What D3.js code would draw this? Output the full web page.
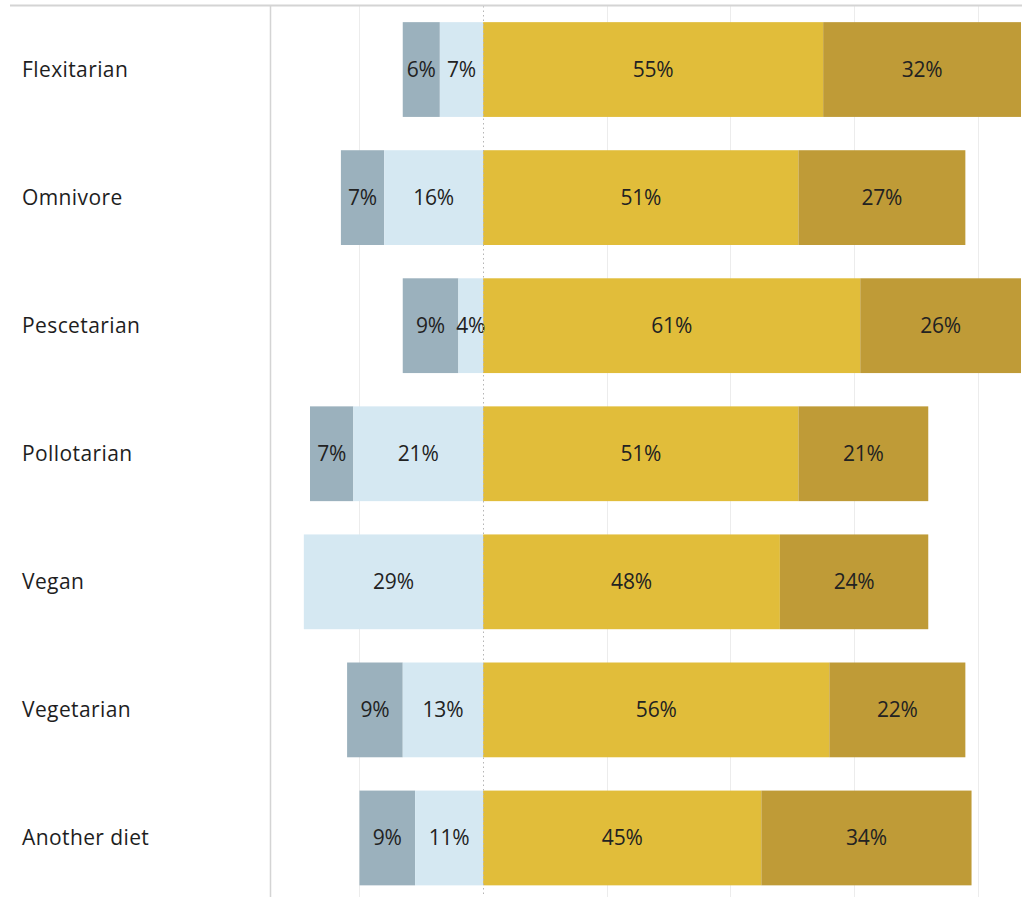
<!DOCTYPE html>
<html>
<head>
<meta charset="utf-8">
<script src="https://cdn.jsdelivr.net/npm/d3@7"></script>
<style>
  html, body { margin: 0; padding: 0; background: #fff; }
  svg { display: block; }
  text { font-family: "Open Sans", "Noto Sans", sans-serif; font-weight: 500; }
</style>
</head>
<body>
<svg id="chart" width="1022" height="897"></svg>
<script>
// Survey responses per diet, in percent
const diets = ["Flexitarian", "Omnivore", "Pescetarian", "Pollotarian", "Vegan", "Vegetarian", "Another diet"];
const stronglyNegative = [6, 7, 9, 7, 0, 9, 9];
const negative = [7, 16, 4, 21, 29, 13, 11];
const positive = [55, 51, 61, 51, 48, 56, 45];
const stronglyPositive = [32, 27, 26, 21, 24, 22, 34];
const gridTicks = [-20, 20, 40, 60, 80];

const colors = {
  stronglyNegative: "#9bb1bd",
  negative: "#d5e8f2",
  positive: "#e1bd3a",
  stronglyPositive: "#bf9b37"
};

const W = 1022, H = 897;
const axisX = 270;
const svg = d3.select("#chart");

const x = d3.scaleLinear().domain([-34.47, 87]).range([axisX, 1021]);
const y = d3.scaleBand().domain(diets).range([5.5, 902]).paddingInner(0.26).paddingOuter(0.13);

// Light vertical grid
svg.append("g").selectAll("line").data(gridTicks).join("line")
  .attr("x1", d => Math.round(x(d)) + 0.5).attr("x2", d => Math.round(x(d)) + 0.5)
  .attr("y1", 6).attr("y2", H)
  .attr("stroke", "#ececec").attr("stroke-width", 1);

// Build stacked segments from the center outward
const rows = diets.map((d, i) => {
  const sn = stronglyNegative[i], n = negative[i], p = positive[i], sp = stronglyPositive[i];
  return {
    diet: d,
    segs: [
      { key: "stronglyNegative", x0: -(n + sn), x1: -n, v: sn },
      { key: "negative", x0: -n, x1: 0, v: n },
      { key: "positive", x0: 0, x1: p, v: p },
      { key: "stronglyPositive", x0: p, x1: p + sp, v: sp }
    ].filter(s => s.v > 0)
  };
});

const rowG = svg.append("g").selectAll("g").data(rows).join("g")
  .attr("transform", d => `translate(0,${y(d.diet)})`);

rowG.selectAll("rect").data(d => d.segs).join("rect")
  .attr("x", s => x(s.x0))
  .attr("width", s => x(s.x1) - x(s.x0))
  .attr("y", 0)
  .attr("height", y.bandwidth())
  .attr("fill", s => colors[s.key]);

rowG.selectAll("text.val").data(d => d.segs).join("text")
  .attr("class", "val")
  .attr("x", s => (x(s.x0) + x(s.x1)) / 2)
  .attr("y", y.bandwidth() / 2)
  .attr("dy", "0.35em")
  .attr("text-anchor", "middle")
  .attr("font-size", 21)
  .attr("letter-spacing", "-0.2")
  .attr("fill", "#222")
  .text(s => s.v + "%");

// Dotted zero line
svg.append("line")
  .attr("x1", Math.round(x(0)) + 0.5).attr("x2", Math.round(x(0)) + 0.5)
  .attr("y1", 6).attr("y2", H)
  .attr("stroke", "#b5b5b5").attr("stroke-width", 1)
  .attr("stroke-dasharray", "1.5,3");

// Row header labels
svg.append("g").selectAll("text").data(diets).join("text")
  .attr("x", 22)
  .attr("y", d => y(d) + y.bandwidth() / 2)
  .attr("dy", "0.35em")
  .attr("font-size", 21)
  .attr("letter-spacing", "0.4")
  .attr("fill", "#1e1e1e")
  .text(d => d);

// Frame lines
svg.append("line").attr("x1", 10).attr("x2", W).attr("y1", 5.5).attr("y2", 5.5)
  .attr("stroke", "#d4d4d4").attr("stroke-width", 2);
svg.append("line").attr("x1", axisX + 0.5).attr("x2", axisX + 0.5).attr("y1", 6).attr("y2", H)
  .attr("stroke", "#d4d4d4").attr("stroke-width", 1.5);
</script>
</body>
</html>
